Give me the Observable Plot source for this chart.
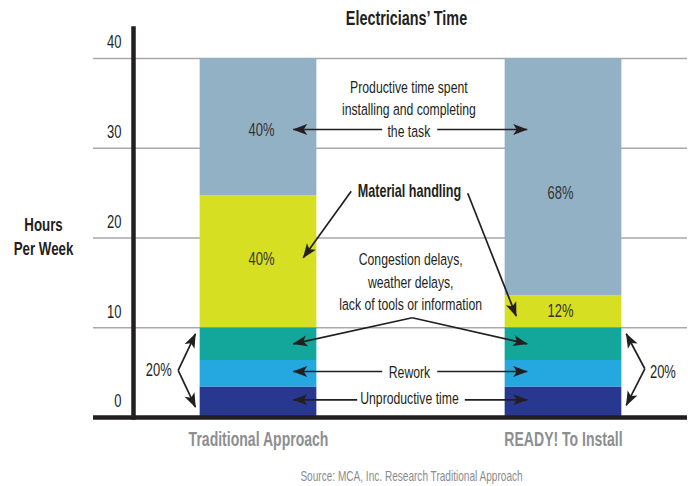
<!DOCTYPE html>
<html>
<head>
<meta charset="utf-8">
<script src="https://cdn.jsdelivr.net/npm/d3@7"></script>
<script src="https://cdn.jsdelivr.net/npm/@observablehq/plot@0.6"></script>
<style>
  html, body { margin: 0; padding: 0; background: #fff; }
</style>
</head>
<body>
<div id="chart"></div>
<script>
// ---- data ----
const categories = ["Traditional Approach", "READY! To Install"];
const segments = ["Unproductive time", "Rework", "Congestion delays", "Material handling", "Productive time"];
const traditionalHours = [3.4, 2.95, 3.65, 14.7, 15.3];
const readyHours = [3.4, 2.95, 3.65, 3.6, 26.4];
const segmentColors = ["#283891", "#25a8e0", "#12a79a", "#d6df22", "#93b1c4"];
const yTicks = [0, 10, 20, 30, 40];

const percentText = ["40%", "40%", "12%", "68%"];
const percentX = [0.01, 0.01, 0.99, 0.99];
const percentY = [32.0, 17.6, 11.84, 24.96];

const calloutText = [
  "Productive time spent\ninstalling and completing\nthe task",
  "Material handling",
  "Congestion delays,\nweather delays,\nlack of tools or information",
  "Rework",
  "Unproductive time"
];
const calloutX = [0.493, 0.495, 0.499, 0.495, 0.495];
const calloutY = [34.5, 25.2, 15.26, 5.24, 2.3];
const calloutWeight = ["normal", "bold", "normal", "normal", "normal"];

// arrows: start (x1,y1) -> tip (x2,y2), in data units
const arrowX1 = [0.4056, 0.5859, 0.304, 0.686, 0.504, 0.504, 0.4056, 0.5859, 0.3236, 0.6764, -0.2633, -0.2633, 1.2666, 1.2666];
const arrowY1 = [32.09, 32.09, 25.21, 24.99, 11.11, 11.11, 5.125, 5.125, 1.97, 1.97, 5.24, 5.24, 5.43, 5.43];
const arrowX2 = [0.1138, 0.881, 0.1466, 0.845, 0.1138, 0.881, 0.1138, 0.881, 0.1138, 0.881, -0.2066, -0.2066, 1.2056, 1.2056];
const arrowY2 = [32.09, 32.09, 17.79, 11.29, 8.21, 8.21, 5.125, 5.125, 1.97, 1.97, 9.33, 1.15, 9.33, 1.34];

const bracketText = ["20%", "20%"];
const bracketX = [-0.327, 1.326];
const bracketY = [5.24, 5.1];

// ---- derived tables ----
const hoursByCategory = [traditionalHours, readyHours];
const barRows = [];
categories.forEach((c, ci) => {
  const ends = d3.cumsum(hoursByCategory[ci]);
  segments.forEach((s, si) => {
    barRows.push({category: c, pos: ci, segment: s, y1: ends[si] - hoursByCategory[ci][si], y2: ends[si]});
  });
});
const percents = percentText.map((t, i) => ({t, x: percentX[i], y: percentY[i]}));
const callouts = calloutText.map((t, i) => ({t, x: calloutX[i], y: calloutY[i], w: calloutWeight[i]}));
const arrows = arrowX1.map((x1, i) => ({x1, y1: arrowY1[i], x2: arrowX2[i], y2: arrowY2[i]}));
const brackets = bracketText.map((t, i) => ({t, x: bracketX[i], y: bracketY[i]}));

const halfBar = 0.1913;
const ink = "#231f20";
const font = "'Liberation Sans', Arial, sans-serif";
const condense = 0.72; // horizontal squeeze to mimic a condensed face

const arrowHead = (color, context) => {
  const m = d3.create("svg:marker")
    .attr("viewBox", "-15 -6 16 12")
    .attr("markerWidth", 16)
    .attr("markerHeight", 12)
    .attr("markerUnits", "userSpaceOnUse")
    .attr("orient", "auto")
    .attr("fill", color)
    .attr("stroke", "none");
  m.append("path").attr("d", "M0.5,0L-14,-5.5L-10.5,0L-14,5.5Z");
  return m.node();
};

const chart = Plot.plot({
  width: 688,
  height: 486,
  marginTop: 28,
  marginBottom: 69,
  marginLeft: 93,
  marginRight: 1,
  x: {domain: [0, 1], range: [258, 563]},
  y: {domain: [0, 40], range: [417, 58]},
  color: {domain: segments, range: segmentColors},
  style: {fontFamily: font, color: ink, background: "#fff"},
  marks: [
    Plot.gridY(yTicks, {stroke: "#a7a9ac", strokeOpacity: 1, strokeWidth: 1.5}),
    Plot.rectY(barRows, {x1: d => d.pos - halfBar, x2: d => d.pos + halfBar, y1: "y1", y2: "y2", fill: "segment"}),
    Plot.ruleY([0], {stroke: ink, strokeWidth: 4.5}),
    Plot.frame({anchor: "left", insetLeft: 40, stroke: ink, strokeWidth: 4.5}),
    Plot.axisY({ticks: yTicks, tickSize: 0, tickPadding: 0, dx: 28, dy: -16, fontSize: 18, label: null, fill: ink}),
    Plot.axisX({ticks: [0, 1], tickFormat: i => categories[i], tickSize: 0, tickPadding: 15, fontSize: 19.5, fontWeight: "bold", fill: "#8c8e90", label: null}),
    Plot.text(percents, {x: "x", y: "y", text: "t", fontSize: 18, fill: "#333"}),
    Plot.text(callouts.filter(d => d.w !== "bold"), {x: "x", y: "y", text: "t", fontSize: 17, lineHeight: 1.32, fill: ink}),
    Plot.text(callouts.filter(d => d.w === "bold"), {x: "x", y: "y", text: "t", fontSize: 17.5, fontWeight: "bold", fill: ink}),
    Plot.link(arrows, {x1: "x1", y1: "y1", x2: "x2", y2: "y2", stroke: ink, strokeWidth: 1.7, markerEnd: arrowHead}),
    Plot.text(brackets, {x: "x", y: "y", text: "t", fontSize: 18, fill: ink}),
    Plot.text(["Electricians\u2019 Time"], {frameAnchor: "top", textAnchor: "middle", lineAnchor: "middle", dx: 16, dy: -10, fontSize: 20, fontWeight: "bold", fill: ink}),
    Plot.text(["Hours\nPer Week"], {frameAnchor: "left", textAnchor: "middle", lineAnchor: "middle", dx: -50, dy: 12, fontSize: 18.5, fontWeight: "bold", lineHeight: 1.3, fill: ink}),
    Plot.text(["Source: MCA, Inc. Research Traditional Approach"], {frameAnchor: "bottom", textAnchor: "middle", lineAnchor: "middle", dx: 21, dy: 59, fontSize: 14, fill: "#8a8c8e"})
  ]
});

// squeeze every text horizontally about its own anchor point
d3.select(chart).selectAll("text").each(function () {
  const el = d3.select(this);
  const x = +(el.attr("x") || 0);
  const t = el.attr("transform") || "";
  el.attr("transform", `${t} translate(${x},0) scale(${condense},1) translate(${-x},0)`);
});

document.getElementById("chart").appendChild(chart);
</script>
</body>
</html>
